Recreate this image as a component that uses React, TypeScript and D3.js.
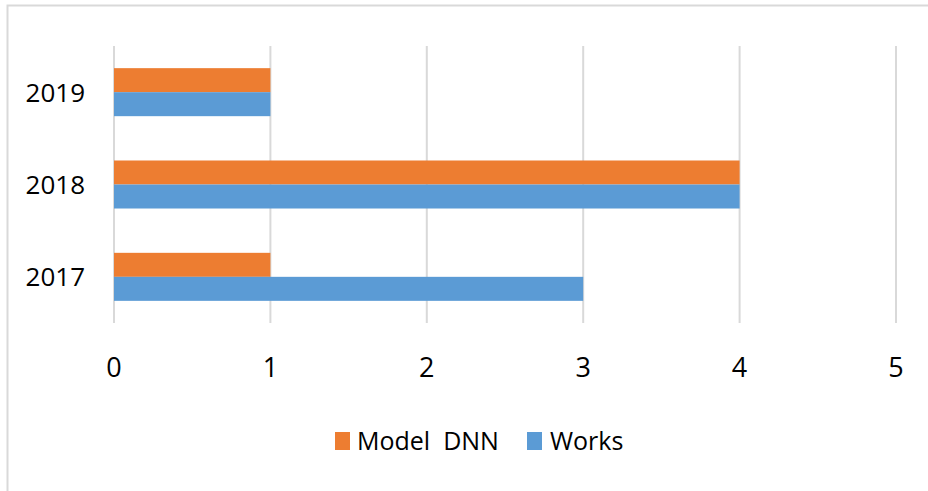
import React from "react";
import * as d3 from "d3";

const categories = ["2019", "2018", "2017"];
const seriesNames = ["Model  DNN", "Works"];
const modelDnn = [1, 4, 1];
const works = [1, 4, 3];
const xTicks = [0, 1, 2, 3, 4, 5];
const colors = ["#ED7D31", "#5B9BD5"];

const W = 928;
const H = 491;

export default function App() {
  const x = d3.scaleLinear().domain([0, 5]).range([114, 896]);
  const y = d3
    .scaleBand<string>()
    .domain(categories)
    .range([46, 323])
    .paddingInner(0.48)
    .paddingOuter(0.24);
  const sub = d3.scaleBand<string>().domain(seriesNames).range([0, y.bandwidth()]);
  const seriesValues = [modelDnn, works];
  const font = "'Open Sans', sans-serif";

  const legendItems = [
    { name: seriesNames[0], sx: 335, tx: 357 },
    { name: seriesNames[1], sx: 527, tx: 550 },
  ];

  return (
    <svg
      width={W}
      height={H}
      style={{ position: "absolute", left: 0, top: 0, display: "block", background: "#fff" }}
    >
      <rect x={0} y={0} width={W} height={H} fill="#fff" />
      <path d={`M7.5,${H} V5.5 H${W}`} fill="none" stroke="#d9d9d9" strokeWidth={2} />
      {xTicks.map((t) => (
        <line key={t} x1={x(t)} x2={x(t)} y1={46} y2={323} stroke="#d9d9d9" strokeWidth={2} />
      ))}
      {categories.map((c, i) =>
        seriesValues.map((vals, s) => (
          <rect
            key={c + s}
            x={x(0)}
            y={(y(c) as number) + (sub(seriesNames[s]) as number)}
            width={x(vals[i]) - x(0)}
            height={sub.bandwidth()}
            fill={colors[s]}
          />
        ))
      )}
      {categories.map((c) => (
        <text
          key={c}
          x={85}
          y={(y(c) as number) + y.bandwidth() / 2}
          dy="0.36em"
          textAnchor="end"
          fontFamily={font}
          fontSize={26}
          fill="#000"
        >
          {c}
        </text>
      ))}
      {xTicks.map((t) => (
        <text
          key={t}
          x={x(t)}
          y={377}
          textAnchor="middle"
          fontFamily={font}
          fontSize={27}
          fill="#000"
        >
          {t}
        </text>
      ))}
      {legendItems.map((l, i) => (
        <g key={l.name}>
          <rect x={l.sx} y={432} width={15} height={18} fill={colors[i]} />
          <text
            x={l.tx}
            y={450}
            fontFamily={font}
            fontSize={25}
            fill="#000"
            style={{ whiteSpace: "pre" }}
          >
            {l.name}
          </text>
        </g>
      ))}
    </svg>
  );
}
